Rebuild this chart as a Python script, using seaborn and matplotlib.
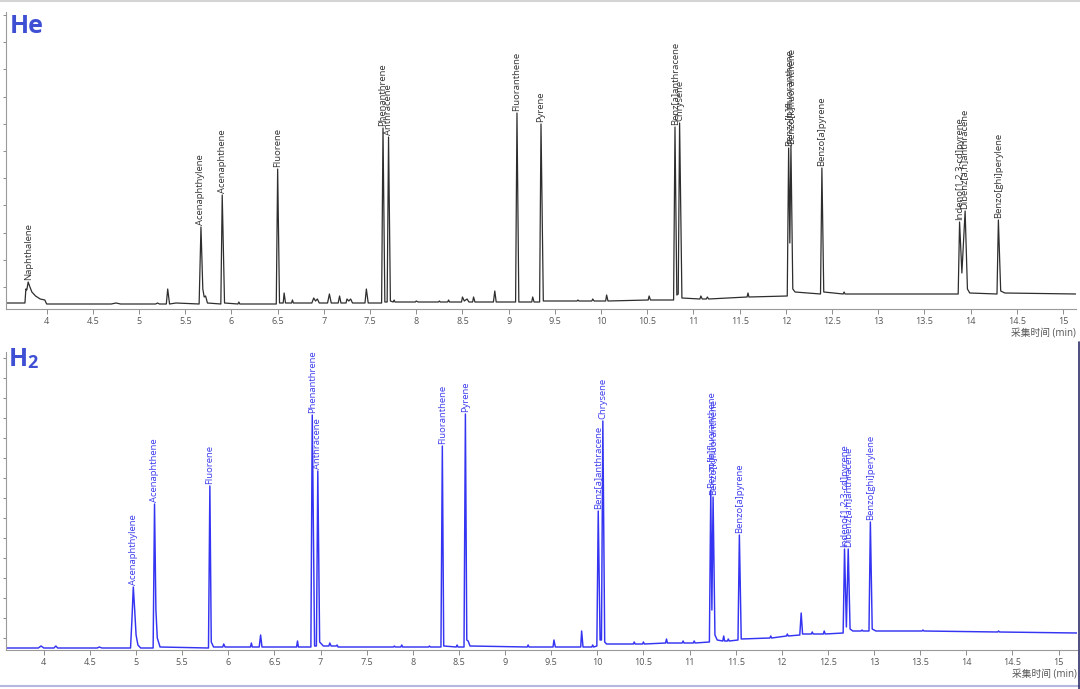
import matplotlib
matplotlib.use("Agg")
import matplotlib.pyplot as plt
from matplotlib.lines import Line2D
import numpy as np
import pandas as pd
import seaborn as sns

# He carrier gas trace: vertices (time in min, signal)
he_time = [3.56, 3.765, 3.775, 3.785, 3.80, 3.815, 3.84, 3.88, 3.93, 3.98, 4.00, 4.70, 4.75, 4.80,
           5.18, 5.20, 5.22, 5.295, 5.31, 5.33, 5.40, 5.65, 5.67, 5.69, 5.705, 5.72, 5.74, 5.885,
           5.90, 5.925, 6.07, 6.08, 6.09, 6.485, 6.50, 6.52, 6.56, 6.57, 6.585, 6.65, 6.66, 6.67,
           6.87, 6.89, 6.91, 6.93, 6.95, 7.04, 7.06, 7.08, 7.155, 7.17, 7.185, 7.24, 7.25, 7.27,
           7.29, 7.31, 7.445, 7.46, 7.48, 7.625, 7.64, 7.66, 7.685, 7.70, 7.72, 7.75, 7.76, 7.77,
           7.99, 8.00, 8.02, 8.24, 8.25, 8.26, 8.34, 8.35, 8.36, 8.49, 8.50, 8.52, 8.55, 8.57,
           8.61, 8.62, 8.635, 8.835, 8.85, 8.865, 9.075, 9.09, 9.11, 9.25, 9.26, 9.275, 9.335,
           9.35, 9.375, 9.74, 9.75, 9.76, 9.90, 9.91, 9.925, 10.05, 10.06, 10.075, 10.51, 10.52,
           10.535, 10.785, 10.80, 10.82, 10.835, 10.85, 10.875, 11.07, 11.08, 11.095, 11.14,
           11.15, 11.165, 11.58, 11.59, 11.60, 12.015, 12.03, 12.043, 12.055, 12.075, 12.10,
           12.375, 12.39, 12.41, 12.62, 12.63, 12.64, 13.865, 13.88, 13.905, 13.94, 13.965,
           13.99, 14.285, 14.30, 14.325, 14.37, 15.14]
he_signal = [6, 6, 20, 19, 27, 23, 17, 13, 10, 9, 5, 5, 6, 5,
             5, 6, 5, 5, 20, 5, 6, 5, 82, 20, 12, 13, 6, 5,
             114, 6, 5, 7, 5, 5, 140, 6, 6, 16, 6, 6, 9, 6,
             6, 11, 8, 10, 6, 6, 15, 6, 6, 13, 6, 6, 10, 8,
             10, 6, 6, 20, 6, 6, 181, 7, 7, 172, 8, 7, 9, 7,
             7, 8, 7, 7, 8, 7, 7, 9, 7, 7, 12, 8, 10, 7,
             7, 12, 7, 7, 18, 7, 7, 196, 7, 7, 12, 7, 7,
             185, 8, 8, 9, 8, 8, 10, 8, 8, 14, 8, 9, 13,
             9, 9, 182, 14, 15, 186, 11, 10, 13, 10, 10,
             12, 10, 12, 16, 12, 13, 161, 66, 163, 20, 17,
             15, 141, 17, 15, 17, 15, 15, 87, 36, 98, 20,
             16, 15, 89, 18, 16, 15]

he_names = ["Naphthalene", "Acenaphthylene", "Acenaphthene", "Fluorene", "Phenanthrene",
            "Anthracene", "Fluoranthene", "Pyrene", "Benz[a]anthracene", "Chrysene",
            "Benzo[b]fluoranthene", "Benzo[k]fluoranthene", "Benzo[a]pyrene",
            "Indeno[1,2,3-cd]pyrene", "Dibenz[a,h]anthracene", "Benzo[ghi]perylene"]
he_rt = [3.80, 5.67, 5.90, 6.50, 7.64, 7.70, 9.09, 9.35, 10.80, 10.85,
         12.03, 12.055, 12.39, 13.88, 13.94, 14.30]

# H2 carrier gas trace
h2_time = [3.59, 3.94, 3.97, 4.00, 4.11, 4.13, 4.15, 4.58, 4.60, 4.63, 4.94, 4.955, 4.97, 4.985,
           5.00, 5.02, 5.05, 5.185, 5.20, 5.215, 5.23, 5.26, 5.785, 5.80, 5.815, 5.84, 5.94,
           5.95, 5.965, 6.24, 6.25, 6.26, 6.335, 6.35, 6.365, 6.74, 6.75, 6.76, 6.895, 6.91,
           6.935, 6.955, 6.97, 6.99, 7.03, 7.09, 7.10, 7.115, 7.17, 7.18, 7.19, 7.79, 7.80,
           7.81, 7.87, 7.88, 7.89, 8.17, 8.18, 8.19, 8.305, 8.32, 8.335, 8.47, 8.48, 8.49,
           8.555, 8.57, 8.585, 8.60, 8.62, 9.24, 9.25, 9.26, 9.52, 9.53, 9.545, 9.82, 9.83,
           9.845, 9.94, 9.95, 9.96, 9.995, 10.01, 10.03, 10.045, 10.06, 10.08, 10.10, 10.39,
           10.40, 10.41, 10.49, 10.50, 10.51, 10.74, 10.75, 10.76, 10.92, 10.93, 10.94, 11.04,
           11.05, 11.06, 11.215, 11.23, 11.242, 11.255, 11.275, 11.30, 11.36, 11.37, 11.38,
           11.41, 11.42, 11.43, 11.525, 11.54, 11.56, 11.87, 11.88, 11.89, 12.05, 12.06, 12.07,
           12.195, 12.21, 12.225, 12.32, 12.33, 12.34, 12.45, 12.46, 12.47, 12.665, 12.68,
           12.70, 12.72, 12.74, 12.77, 12.86, 12.87, 12.88, 12.945, 12.96, 12.98, 13.02, 13.52,
           13.53, 13.54, 14.34, 14.35, 14.36, 15.2]
h2_signal = [2, 2, 4, 2, 2, 4, 2, 2, 3, 2, 2, 30, 63, 40,
             15, 5, 2, 2, 146, 40, 12, 3, 2, 164, 8, 3, 3,
             6, 3, 3, 7, 3, 3, 15, 3, 3, 9, 3, 3, 235,
             4, 4, 179, 8, 4, 4, 7, 4, 4, 5, 3, 3, 4,
             3, 3, 5, 3, 3, 4, 3, 3, 204, 4, 3, 5, 3,
             3, 236, 10, 9, 4, 3, 5, 3, 3, 10, 3, 3, 19,
             3, 3, 5, 3, 4, 139, 10, 10, 229, 8, 6, 6,
             8, 6, 6, 8, 6, 7, 11, 7, 7, 9, 7, 7,
             9, 7, 8, 160, 40, 153, 15, 10, 9, 14, 9,
             9, 11, 9, 10, 115, 11, 12, 14, 12, 14, 16, 14,
             15, 37, 16, 16, 18, 16, 16, 19, 16, 17, 101,
             23, 101, 21, 19, 19, 20, 19, 19, 128, 21, 19, 19,
             20, 19, 18, 19, 18, 17]

h2_names = ["Acenaphthylene", "Acenaphthene", "Fluorene", "Phenanthrene", "Anthracene",
            "Fluoranthene", "Pyrene", "Benz[a]anthracene", "Chrysene",
            "Benzo[b]fluoranthene", "Benzo[k]fluoranthene", "Benzo[a]pyrene",
            "Indeno[1,2,3-cd]pyrene", "Dibenz[a,h]anthracene", "Benzo[ghi]perylene"]
h2_rt = [4.97, 5.20, 5.80, 6.91, 6.97, 8.32, 8.57, 10.01, 10.06,
         11.23, 11.255, 11.54, 12.68, 12.72, 12.96]

x_ticks = np.arange(4, 15.01, 0.5)

sns.set_style("ticks")
plt.rcParams['font.family'] = ['Open Sans', 'Noto Sans CJK SC', 'DejaVu Sans']

W, H = 1080, 689
fig = plt.figure(figsize=(W / 100, H / 100), dpi=100)
ax1 = fig.add_axes([6 / W, 1 - 309 / H, 1070 / W, 297 / H])
ax2 = fig.add_axes([6 / W, 1 - 650 / H, 1071 / W, 298 / H])


def draw_trace(ax, t, s, names, rts, color, text_color, lw, xlim, ylim, yticks):
    df = pd.DataFrame({'time': t, 'signal': s})
    sns.lineplot(data=df, x='time', y='signal', ax=ax, color=color, lw=lw,
                 estimator=None, sort=False)
    for name, rt in zip(names, rts):
        tip = np.interp(rt, t, s)
        ax.annotate(name, xy=(rt, tip), xytext=(0, 1.2), textcoords='offset points',
                    rotation=90, ha='center', va='bottom', fontsize=6.8, color=text_color)
    ax.set_xlim(*xlim)
    ax.set_ylim(*ylim)
    ax.set_xticks(x_ticks)
    ax.set_xticklabels([f"{v:g}" for v in x_ticks])
    ax.set_yticks(yticks)
    ax.set_yticklabels([])
    ax.tick_params(axis='x', length=3.5, width=0.7, color='#8c8c8c', labelsize=6.5,
                   labelcolor='#555555', pad=2)
    ax.tick_params(axis='y', length=2.5, width=0.7, color='#8c8c8c')
    for side in ['top', 'right']:
        ax.spines[side].set_visible(False)
    for side in ['left', 'bottom']:
        ax.spines[side].set_color('#9a9a9a')
        ax.spines[side].set_linewidth(0.8)
    ax.set_xlabel('采集时间 (min)', loc='right', fontsize=7, color='#555555', labelpad=1)
    ax.set_ylabel('')
    ax.set_facecolor('white')


draw_trace(ax1, he_time, he_signal, he_names, he_rt, '#2e2e2e', '#333333', 0.9,
           (3.56, 15.14), (0, 297), np.arange(22, 296, 27.2))
draw_trace(ax2, h2_time, h2_signal, h2_names, h2_rt, '#3434f2', '#3c3cee', 1.05,
           (3.59, 15.2), (0, 298), np.arange(12, 296, 20))

# panel titles
title_color = '#3f4fd4'
fig.text(10 / W, 1 - 33 / H, 'He', fontsize=18, fontweight='bold', color=title_color,
         va='baseline', ha='left')
fig.text(9 / W, 1 - 366 / H, 'H', fontsize=18, fontweight='bold', color=title_color,
         va='baseline', ha='left')
fig.text(27 / W, 1 - 368 / H, '2', fontsize=13, fontweight='bold', color=title_color,
         va='baseline', ha='left')

# frame pieces of the screenshot
fig.add_artist(Line2D([0, 1], [1 - 1 / H, 1 - 1 / H], color='#d4d4d4', lw=1.5))
fig.add_artist(Line2D([0, 1], [1 - 686 / H, 1 - 686 / H], color='#b4b8e0', lw=1.5))
fig.add_artist(Line2D([1 - 1.5 / W, 1 - 1.5 / W], [0, 1 - 342 / H], color='#30306a', lw=1.2))

fig.savefig('out.png', dpi=100)
